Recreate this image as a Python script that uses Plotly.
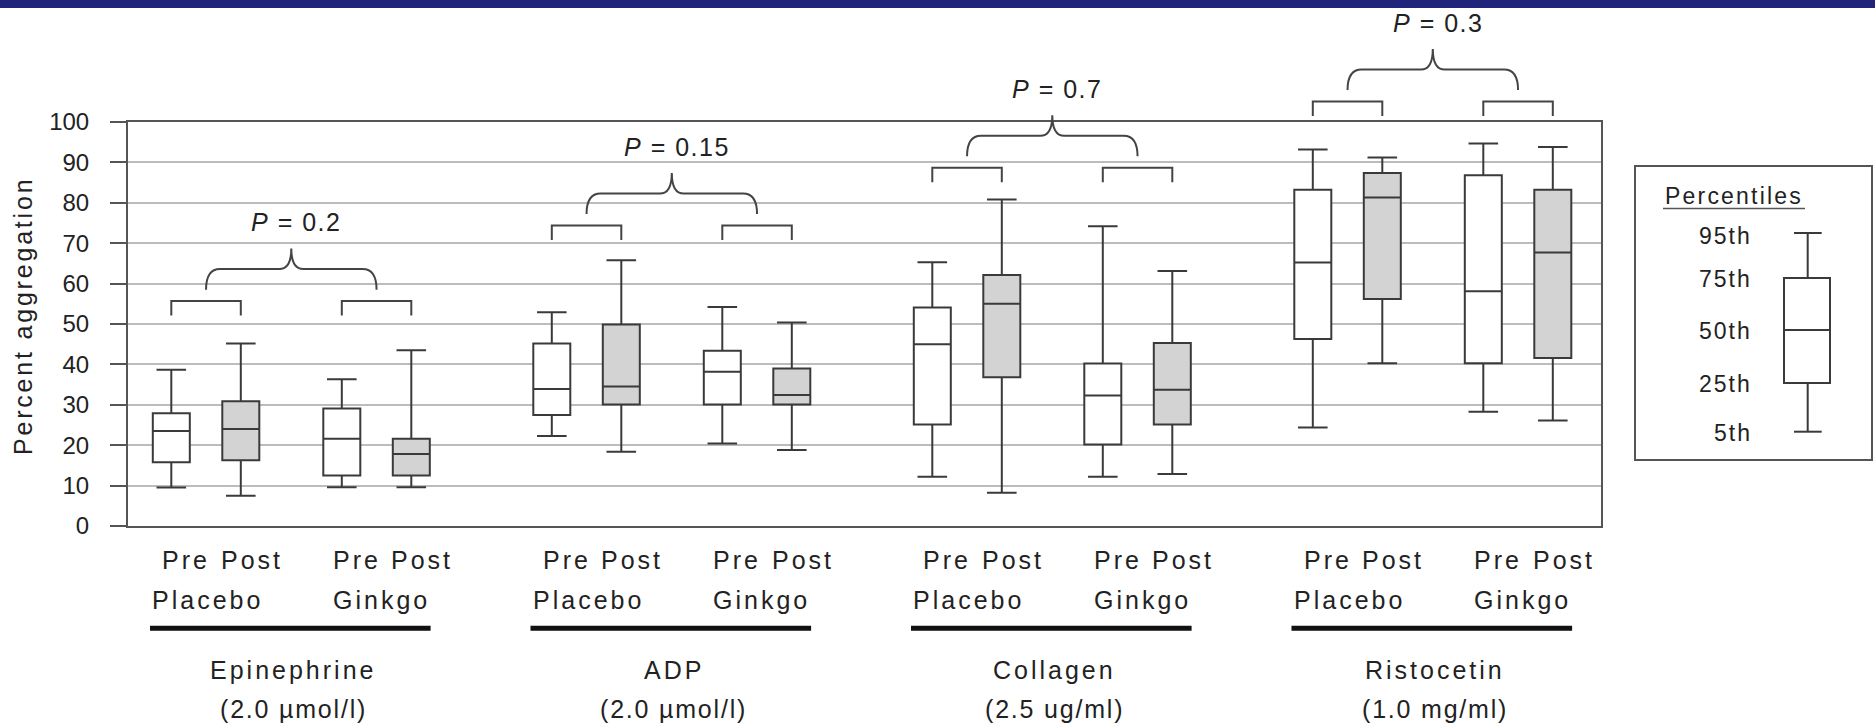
import plotly.graph_objects as go

# ---------------- data ----------------
groups = ["Epinephrine", "ADP", "Collagen", "Ristocetin"]
concentrations = ["(2.0 µmol/l)", "(2.0 µmol/l)", "(2.5 ug/ml)", "(1.0 mg/ml)"]
conditions = ["Placebo Pre", "Placebo Post", "Ginkgo Pre", "Ginkgo Post"]
p_values = ["0.2", "0.15", "0.7", "0.3"]
bracket_levels = [55.7, 74.4, 88.7, 105.1]

# values ordered group by group, each group: Placebo Pre, Placebo Post, Ginkgo Pre, Ginkgo Post
p5_values = [9.5, 7.5, 9.6, 9.6,
             22.3, 18.4, 20.4, 18.8,
             12.2, 8.2, 12.2, 12.9,
             24.4, 40.3, 28.3, 26.1]
p25_values = [15.8, 16.3, 12.5, 12.5,
              27.5, 30.1, 30.1, 30.1,
              25.1, 36.8, 20.2, 25.1,
              46.3, 56.2, 40.3, 41.6]
p50_values = [23.5, 24.0, 21.6, 17.8,
              33.9, 34.5, 38.2, 32.4,
              45.0, 55.0, 32.3, 33.7,
              65.2, 81.3, 58.1, 67.7]
p75_values = [27.9, 30.9, 29.1, 21.6,
              45.2, 49.9, 43.4, 39.0,
              54.1, 62.1, 40.2, 45.3,
              83.2, 87.4, 86.8, 83.2]
p95_values = [38.7, 45.2, 36.3, 43.5,
              52.9, 65.8, 54.2, 50.4,
              65.3, 80.8, 74.2, 63.1,
              93.2, 91.2, 94.7, 93.8]

y_ticks = [0, 10, 20, 30, 40, 50, 60, 70, 80, 90, 100]
legend_labels = ["95th", "75th", "50th", "25th", "5th"]

# ---------------- layout geometry ----------------
FIG_W, FIG_H = 1875, 726
L, T, W, H = 128, 122, 1473, 404
B = FIG_H - T - H
R = FIG_W - L - W
FIRST, GROUP_STEP = 43.3, 380.5
OFFS = [0, 69.5, 170.5, 240]
BOX_W = 37
FONT = "Liberation Sans, Arial, Helvetica, sans-serif"
TXT = "#222222"
LINE = "#3a3a3a"
FILLS = ["#ffffff", "#d3d3d3", "#ffffff", "#d3d3d3"]


def pxx(px):
    return (px - L) / W


def pxy(py):
    return (T + H - py) / H


def dxp(xd):
    return xd / W


def vyp(v):
    return v / 100.0


def ls(text, s):
    return f'<span style="letter-spacing:{s}px">{text}</span>'


positions = [[FIRST + g * GROUP_STEP + o for o in OFFS] for g in range(len(groups))]

fig = go.Figure()
for k, cond in enumerate(conditions):
    idx = [g * 4 + k for g in range(len(groups))]
    fig.add_trace(go.Box(
        name=cond,
        x=[positions[g][k] for g in range(len(groups))],
        lowerfence=[p5_values[i] for i in idx],
        q1=[p25_values[i] for i in idx],
        median=[p50_values[i] for i in idx],
        q3=[p75_values[i] for i in idx],
        upperfence=[p95_values[i] for i in idx],
        width=BOX_W,
        whiskerwidth=0.8,
        fillcolor=FILLS[k],
        line=dict(color=LINE, width=2),
        boxpoints=False,
        hoverinfo="skip",
        showlegend=False,
    ))

shapes = []
annotations = []
BL = dict(color="#444444", width=2)
lab_font = dict(family=FONT, size=25, color=TXT)
LAB_LS = 3.0

for g in range(len(groups)):
    c = positions[g]
    yb = bracket_levels[g]
    # pair brackets
    for a, b in [(0, 1), (2, 3)]:
        path = (f"M{dxp(c[a])},{vyp(yb - 3.6)} L{dxp(c[a])},{vyp(yb)} "
                f"L{dxp(c[b])},{vyp(yb)} L{dxp(c[b])},{vyp(yb - 3.6)}")
        shapes.append(dict(type="path", xref="paper", yref="paper", path=path, line=BL))
    # curly brace
    xl = (c[0] + c[1]) / 2
    xr = (c[2] + c[3]) / 2
    xc = (xl + xr) / 2
    ye, yh, yp = yb + 2.8, yb + 7.9, yb + 13.0
    r1, r2 = 14, 12
    path = (f"M{dxp(xl)},{vyp(ye)} Q{dxp(xl)},{vyp(yh)} {dxp(xl + r1)},{vyp(yh)} "
            f"L{dxp(xc - r2)},{vyp(yh)} Q{dxp(xc)},{vyp(yh)} {dxp(xc)},{vyp(yp)} "
            f"Q{dxp(xc)},{vyp(yh)} {dxp(xc + r2)},{vyp(yh)} "
            f"L{dxp(xr - r1)},{vyp(yh)} Q{dxp(xr)},{vyp(yh)} {dxp(xr)},{vyp(ye)}")
    shapes.append(dict(type="path", xref="paper", yref="paper", path=path, line=BL))
    annotations.append(dict(
        xref="paper", yref="paper", x=dxp(xc + 5), y=vyp(yb + 19.5),
        text=ls(f"<i>P</i> = {p_values[g]}", 1.5), showarrow=False,
        xanchor="center", yanchor="middle", font=dict(family=FONT, size=25, color=TXT)))

    # x labels
    for txt, x0, y0 in [("Pre", c[0] - 11.3, 560), ("Post", c[1] - 22.0, 560),
                        ("Pre", c[2] - 11.3, 560), ("Post", c[3] - 22.0, 560),
                        ("Placebo", c[0] - 21.3, 600), ("Ginkgo", c[2] - 11.0, 600)]:
        annotations.append(dict(xref="paper", yref="paper", x=dxp(x0), y=pxy(y0),
                                text=ls(txt, LAB_LS), showarrow=False, xanchor="left",
                                yanchor="middle", font=lab_font))
    bx0, bx1 = c[0] - 21.3, c[3] + 19.3
    shapes.append(dict(type="line", xref="paper", yref="paper",
                       x0=dxp(bx0), x1=dxp(bx1), y0=pxy(628.3), y1=pxy(628.3),
                       line=dict(color="#111111", width=5)))
    mid = (bx0 + bx1) / 2 + 3
    annotations.append(dict(xref="paper", yref="paper", x=dxp(mid), y=pxy(670),
                            text=ls(groups[g], LAB_LS), showarrow=False, xanchor="center",
                            yanchor="middle", font=lab_font))
    annotations.append(dict(xref="paper", yref="paper", x=dxp(mid), y=pxy(709),
                            text=ls(concentrations[g], 1.8), showarrow=False, xanchor="center",
                            yanchor="middle", font=lab_font))

# y-axis title
annotations.append(dict(xref="paper", yref="paper", x=pxx(23), y=pxy(316),
                        text=ls("Percent aggregation", 2.8), textangle=-90, showarrow=False,
                        xanchor="center", yanchor="middle",
                        font=dict(family=FONT, size=25, color=TXT)))

# top navy band
shapes.append(dict(type="rect", xref="paper", yref="paper", x0=pxx(0), x1=pxx(FIG_W),
                   y0=pxy(8), y1=pxy(0), fillcolor="#20247a", line=dict(width=0)))

# legend key
shapes.append(dict(type="rect", xref="paper", yref="paper", x0=pxx(1635), x1=pxx(1872),
                   y0=pxy(460), y1=pxy(166), line=dict(color="#555555", width=2)))
annotations.append(dict(xref="paper", yref="paper", x=pxx(1734), y=pxy(196),
                        text=ls("Percentiles", 2.2), showarrow=False, xanchor="center",
                        yanchor="middle", font=dict(family=FONT, size=23, color=TXT)))
shapes.append(dict(type="line", xref="paper", yref="paper", x0=pxx(1663), x1=pxx(1805),
                   y0=pxy(208.5), y1=pxy(208.5), line=dict(color="#555555", width=1.5)))
key_y = [235.5, 279, 330.5, 384, 432.5]
for lab, yy in zip(legend_labels, key_y):
    annotations.append(dict(xref="paper", yref="paper", x=pxx(1754), y=pxy(yy),
                            text=ls(lab, 2), showarrow=False, xanchor="right",
                            yanchor="middle", font=dict(family=FONT, size=23, color=TXT)))
KL = dict(color=LINE, width=2)
kx0, kx1, kc = 1784, 1830, 1807.7
w_top, b_top, med, b_bot, w_bot = 233, 278, 330, 383, 431.7
shapes += [
    dict(type="rect", xref="paper", yref="paper", x0=pxx(kx0), x1=pxx(kx1),
         y0=pxy(b_bot), y1=pxy(b_top), line=KL),
    dict(type="line", xref="paper", yref="paper", x0=pxx(kx0), x1=pxx(kx1),
         y0=pxy(med), y1=pxy(med), line=KL),
    dict(type="line", xref="paper", yref="paper", x0=pxx(kc), x1=pxx(kc),
         y0=pxy(w_top), y1=pxy(b_top), line=KL),
    dict(type="line", xref="paper", yref="paper", x0=pxx(kc), x1=pxx(kc),
         y0=pxy(b_bot), y1=pxy(w_bot), line=KL),
    dict(type="line", xref="paper", yref="paper", x0=pxx(1794), x1=pxx(1821.7),
         y0=pxy(w_top), y1=pxy(w_top), line=KL),
    dict(type="line", xref="paper", yref="paper", x0=pxx(1794), x1=pxx(1821.7),
         y0=pxy(w_bot), y1=pxy(w_bot), line=KL),
]

fig.update_layout(
    width=FIG_W, height=FIG_H,
    margin=dict(l=L, r=R, t=T, b=B, pad=0),
    paper_bgcolor="white", plot_bgcolor="white",
    boxmode="overlay",
    showlegend=False,
    shapes=shapes,
    annotations=annotations,
    font=dict(family=FONT, color=TXT),
    xaxis=dict(range=[0, W], showgrid=False, zeroline=False, showticklabels=False,
               ticks="", showline=True, linecolor="#555555", linewidth=2, mirror=True,
               fixedrange=True),
    yaxis=dict(range=[0, 100], tickvals=y_ticks, showgrid=True, gridcolor="#bcbcbc",
               gridwidth=1.5, zeroline=False, showline=True, linecolor="#555555",
               linewidth=2, mirror=True, ticks="outside", ticklen=16, tickwidth=2,
               tickcolor="#555555", ticklabelstandoff=16,
               tickfont=dict(family=FONT, size=24, color=TXT), fixedrange=True),
)

fig.write_html(
    "out.html",
    config={"displayModeBar": False},
    post_script="document.body.style.margin='0';document.body.style.padding='0';"
                "document.body.style.overflow='hidden';",
)
